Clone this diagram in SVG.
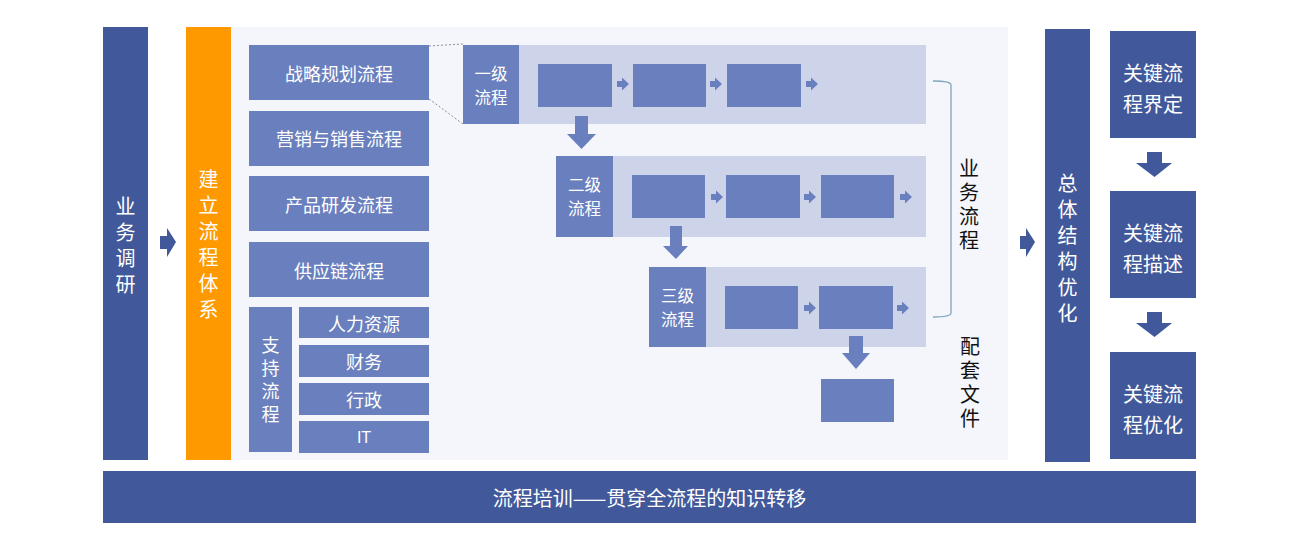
<svg xmlns="http://www.w3.org/2000/svg" width="1300" height="545" viewBox="0 0 1300 545">
<style>
.dk{fill:#41599A}
.md{fill:#6A7FBE}
.lt{fill:#CDD3E8}
.or{fill:#FF9900}
.t{font-family:"Noto Sans CJK SC","Liberation Sans",sans-serif;fill:#FFFFFF;text-anchor:middle;dominant-baseline:central}
.v{writing-mode:vertical-rl}
.b{fill:#111111}
.f16{font-size:16.5px}
.f18{font-size:18px}
.f20{font-size:20px}
</style>
<rect x="0" y="0" width="1300" height="545" fill="#FFFFFF"/>
<rect x="231" y="27" width="777" height="433" fill="#F4F6FB"/>

<g id="n-research">
<rect class="dk" x="103" y="27" width="45" height="433"/>
<text class="t v f20" x="125.5" y="248" letter-spacing="6">业务调研</text>
</g>

<g id="n-build">
<rect class="or" x="186" y="27" width="45" height="433"/>
<text class="t v f20" x="208.5" y="247" letter-spacing="6">建立流程体系</text>
</g>

<g id="n-strategy"><rect class="md" x="249" y="45" width="180" height="55"/><text class="t f18" x="339" y="73">战略规划流程</text></g>
<g id="n-marketing"><rect class="md" x="249" y="111" width="180" height="55"/><text class="t f18" x="339" y="138">营销与销售流程</text></g>
<g id="n-product"><rect class="md" x="249" y="176" width="180" height="55"/><text class="t f18" x="339" y="204">产品研发流程</text></g>
<g id="n-supply"><rect class="md" x="249" y="242" width="180" height="55"/><text class="t f18" x="339" y="270">供应链流程</text></g>

<g id="n-support">
<rect class="md" x="249" y="307" width="43" height="145"/>
<text class="t v f18" x="270.5" y="382" letter-spacing="5">支持流程</text>
</g>
<g id="n-hr"><rect class="md" x="299" y="307" width="130" height="31"/><text class="t f18" x="364" y="323">人力资源</text></g>
<g id="n-finance"><rect class="md" x="299" y="345" width="130" height="32"/><text class="t f18" x="364" y="361">财务</text></g>
<g id="n-admin"><rect class="md" x="299" y="383" width="130" height="32"/><text class="t f18" x="364" y="399">行政</text></g>
<g id="n-it"><rect class="md" x="299" y="421" width="130" height="32"/><text class="t" x="364" y="437" style="font-family:'Liberation Sans',sans-serif;font-size:16px">IT</text></g>

<g id="n-level1">
<rect class="lt" x="519" y="45" width="407" height="79"/>
<rect class="md" x="463" y="45" width="56" height="79"/>
<text class="t f16"><tspan x="491" y="73">一级</tspan><tspan x="491" y="97">流程</tspan></text>
<rect class="md" x="538" y="64" width="74" height="43"/>
<rect class="md" x="633" y="64" width="73" height="43"/>
<rect class="md" x="727" y="64" width="74" height="43"/>
</g>

<g id="n-level2">
<rect class="lt" x="613" y="156" width="313" height="81"/>
<rect class="md" x="556" y="156" width="57" height="81"/>
<text class="t f16"><tspan x="584.5" y="184">二级</tspan><tspan x="584.5" y="208">流程</tspan></text>
<rect class="md" x="632" y="175" width="73" height="43"/>
<rect class="md" x="726" y="175" width="74" height="43"/>
<rect class="md" x="821" y="175" width="73" height="43"/>
</g>

<g id="n-level3">
<rect class="lt" x="706" y="267" width="220" height="80"/>
<rect class="md" x="649" y="267" width="57" height="80"/>
<text class="t f16"><tspan x="677.5" y="295">三级</tspan><tspan x="677.5" y="319">流程</tspan></text>
<rect class="md" x="725" y="286" width="73" height="43"/>
<rect class="md" x="819" y="286" width="74" height="43"/>
</g>

<g id="n-doc"><rect class="md" x="821" y="379" width="73" height="43"/></g>

<g id="n-label-biz">
<text class="t v f20 b" x="969" y="206.5" letter-spacing="4">业务流程</text>
</g>
<g id="n-label-doc">
<text class="t v f20 b" x="970" y="384.5" letter-spacing="4">配套文件</text>
</g>

<g id="n-overall">
<rect class="dk" x="1045" y="29" width="45" height="433"/>
<text class="t v f20" x="1067.5" y="251" letter-spacing="6">总体结构优化</text>
</g>

<g id="n-key1"><rect class="dk" x="1110" y="31" width="86" height="107"/><text class="t f20"><tspan x="1153" y="72">关键流</tspan><tspan x="1153" y="103">程界定</tspan></text></g>
<g id="n-key2"><rect class="dk" x="1110" y="191" width="86" height="107"/><text class="t f20"><tspan x="1153" y="232">关键流</tspan><tspan x="1153" y="263">程描述</tspan></text></g>
<g id="n-key3"><rect class="dk" x="1110" y="352" width="86" height="107"/><text class="t f20"><tspan x="1153" y="393">关键流</tspan><tspan x="1153" y="424">程优化</tspan></text></g>

<g id="n-training">
<rect class="dk" x="103" y="471" width="1093" height="52"/>
<text class="t f20" x="649.5" y="497">流程培训——贯穿全流程的知识转移</text>
</g>

<g id="connectors">
<path d="M429,46 L463,44 M429,99 L463,124" stroke="#8A8F9C" stroke-width="1" stroke-dasharray="2,2" fill="none"/>
<path d="M933,81 Q951,81 951,85 L951,313 Q951,317 933,317" stroke="#7FA6BA" stroke-width="1.3" fill="none"/>
<path class="dk" d="M160,236 L167,236 L167,228 L176,242 L167,257 L167,249 L160,249 Z"/>
<path class="dk" d="M1020,236 L1026,236 L1026,228 L1035,242 L1026,257 L1026,249 L1020,249 Z"/>
<path class="dk" d="M1147,152 L1162,152 L1162,163 L1172,163 L1154.5,177 L1136,163 L1147,163 Z"/>
<path class="dk" d="M1147,312 L1162,312 L1162,323 L1172,323 L1154.5,337 L1136,323 L1147,323 Z"/>
<path class="md" d="M575,116 L588,116 L588,134 L596,134 L581.5,149 L567,134 L575,134 Z"/>
<path class="md" d="M670,226 L682,226 L682,246 L688,246 L676,259 L663,246 L670,246 Z"/>
<path class="md" d="M849,336 L863,336 L863,353 L870,353 L856,369 L842,353 L849,353 Z"/>
<g class="md">
<path d="M617,81 L622,81 L622,77.5 L629,84 L622,90.5 L622,87 L617,87 Z"/>
<path d="M710,81 L715,81 L715,77.5 L722,84 L715,90.5 L715,87 L710,87 Z"/>
<path d="M806,81 L811,81 L811,77.5 L818,84 L811,90.5 L811,87 L806,87 Z"/>
<path d="M711,194 L716,194 L716,190.5 L723,197 L716,203.5 L716,200 L711,200 Z"/>
<path d="M804,194 L809,194 L809,190.5 L816,197 L809,203.5 L809,200 L804,200 Z"/>
<path d="M900,194 L905,194 L905,190.5 L912,197 L905,203.5 L905,200 L900,200 Z"/>
<path d="M804,305 L809,305 L809,301.5 L816,308 L809,314.5 L809,311 L804,311 Z"/>
<path d="M897,305 L902,305 L902,301.5 L909,308 L902,314.5 L902,311 L897,311 Z"/>
</g>
</g>
</svg>
